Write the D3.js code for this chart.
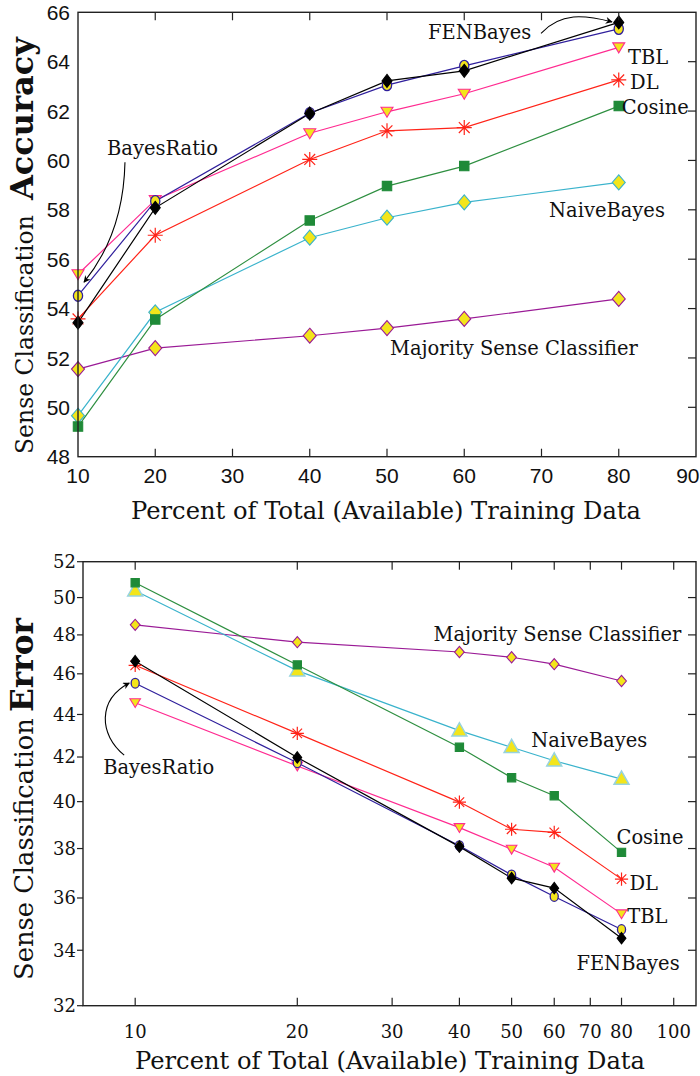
<!DOCTYPE html>
<html><head><meta charset="utf-8">
<script src="https://cdn.jsdelivr.net/npm/d3@7"></script>
<style>html,body{margin:0;padding:0;background:#fff;}</style>
</head><body>
<svg id="c" width="700" height="1076"></svg>
<script>
// ---------- DATA ----------
const seriesNames = ["Majority Sense Classifier","NaiveBayes","Cosine","DL","TBL","BayesRatio","FENBayes"];
const trainPct = [10, 20, 40, 50, 60, 80];

// Accuracy (top panel)
const accMajority   = [51.55, 52.40, 52.90, 53.21, 53.58, 54.39];
const accNaiveBayes = [49.66, 53.85, 56.87, 57.68, 58.30, 59.11];
const accCosine     = [49.22, 53.56, 57.57, 58.96, 59.77, 62.20];
const accDL         = [53.58, 56.97, 60.04, 61.20, 61.33, 63.26];
const accTBL        = [55.39, 58.40, 61.10, 61.97, 62.70, 64.58];
const accBayesRatio = [54.52, 58.35, 61.92, 63.05, 63.83, 65.33];
const accFENBayes   = [53.43, 58.08, 61.90, 63.22, 63.63, 65.59];

// Error (bottom panel)
const errMajority   = [48.53, 47.62, 47.11, 46.84, 46.49, 45.64];
const errNaiveBayes = [50.37, 46.16, 43.23, 42.45, 41.83, 41.00];
const errCosine     = [50.82, 46.45, 42.45, 41.06, 40.26, 37.84];
const errDL         = [46.43, 43.10, 39.98, 38.81, 38.68, 36.75];
const errTBL        = [44.57, 41.59, 38.88, 37.97, 37.23, 35.38];
const errBayesRatio = [45.53, 41.74, 38.12, 36.92, 36.06, 34.78];
const errFENBayes   = [46.64, 41.98, 38.08, 36.79, 36.39, 34.45];

// Tick values
const topXTicks = [10, 20, 30, 40, 50, 60, 70, 80, 90];
const topYTicks = [48, 50, 52, 54, 56, 58, 60, 62, 64, 66];
const botXTicks = [10, 20, 30, 40, 50, 60, 70, 80, 100];
const botYTicks = [32, 34, 36, 38, 40, 42, 44, 46, 48, 50, 52];

// Annotation labels (data units)
const topLabels = [
  {t:"FENBayes", x:55.3, y:65.2},
  {t:"TBL", x:81.2, y:64.19},
  {t:"DL", x:81.46, y:63.18},
  {t:"Cosine", x:80.4, y:62.16},
  {t:"NaiveBayes", x:70.97, y:57.99},
  {t:"Majority Sense Classifier", x:50.39, y:52.4},
  {t:"BayesRatio", x:13.75, y:60.5}
];
const botLabels = [
  {t:"Majority Sense Classifier", x:35.8, y:48.05},
  {t:"NaiveBayes", x:54.4, y:42.79},
  {t:"Cosine", x:78.3, y:38.48},
  {t:"DL", x:82.75, y:36.61},
  {t:"TBL", x:82.0, y:35.31},
  {t:"FENBayes", x:65.96, y:33.54},
  {t:"BayesRatio", x:8.72, y:41.55}
];
// Arrow curves (cubic: start, c1, c2, end) in data units
const topArrows = [
  [[16.08,59.93],[15.95,57.99],[14.14,56.37],[10.78,55.07]],
  [[69.94,65.15],[72.5,66.0],[75.5,65.9],[79.13,65.61]]
];
const botArrows = [
  [[9.54,42.09],[8.57,43.03],[8.50,44.70],[9.75,45.54]]
];

// ---------- STYLE ----------
const YEL = "#f3e51b";
const styles = {
  "Majority Sense Classifier": {line:"#9a1a96", mk:"diamond", fill:YEL, stroke:"#9a1a96"},
  "NaiveBayes": {line:"#3ab3cc", mk:"diamond", fill:YEL, stroke:"#3ab3cc"},
  "Cosine": {line:"#2e8f40", mk:"square", fill:"#1f8a38", stroke:"#1f8a38"},
  "DL": {line:"#ff2318", mk:"star", fill:"none", stroke:"#ff2318"},
  "TBL": {line:"#ff2a90", mk:"tridown", fill:YEL, stroke:"#ff2a90"},
  "BayesRatio": {line:"#2f1f9c", mk:"circle", fill:YEL, stroke:"#2f1f9c"},
  "FENBayes": {line:"#000000", mk:"bdiamond", fill:"#000", stroke:"#000"}
};

const svg = d3.select("#c");
svg.append("rect").attr("width",700).attr("height",1076).attr("fill","#fff");
const SERIF = "'DejaVu Serif', serif";
const SANS = "'Liberation Sans', Arial, sans-serif";

svg.append("defs").append("marker").attr("id","ah").attr("viewBox","0 0 10 10")
  .attr("refX",9).attr("refY",5).attr("markerWidth",9).attr("markerHeight",7)
  .attr("markerUnits","userSpaceOnUse").attr("orient","auto")
  .append("path").attr("d","M0,0 L10,5 L0,10 L3,5 Z").attr("fill","#000");

function markerPath(type, s) {
  switch(type) {
    case "diamond": return `M0,${-7.5*s} L${6.5*s},0 L0,${7.5*s} L${-6.5*s},0 Z`;
    case "bdiamond": return `M0,${-6.5*s} L${5*s},0 L0,${6.5*s} L${-5*s},0 Z`;
    case "square": return `M${-4.7*s},${-4.7*s} h${9.4*s} v${9.4*s} h${-9.4*s} Z`;
    case "tridown": return `M${-6*s},${-4.5*s} L${6*s},${-4.5*s} L0,${5.5*s} Z`;
    case "triup": return `M${-8.5*s},${6*s} L${8.5*s},${6*s} L0,${-9*s} Z`;
    case "star": {
      const r = 7.5*s, d = r*0.72;
      return `M${-r},0 L${r},0 M0,${-r} L0,${r} M${-d},${-d} L${d},${d} M${-d},${d} L${d},${-d}`;
    }
  }
}

function drawPanel(cfg) {
  const g = svg.append("g");
  const {x, y} = cfg;
  const [x0, x1] = x.range(), [yb, yt] = y.range();
  cfg.series.forEach(s => {
    const st = styles[s.name];
    const pts = trainPct.map((p,i)=>[p, s.vals[i]]);
    g.append("path").attr("d", d3.line().x(d=>x(d[0])).y(d=>y(d[1]))(pts))
      .attr("fill","none").attr("stroke",st.line).attr("stroke-width",1.2);
  });
  cfg.series.forEach(s => {
    const st = styles[s.name];
    let mk = st.mk, stroke = st.stroke, sc = cfg.mscale;
    if (cfg.naiveTri && s.name==="NaiveBayes") { mk = "triup"; stroke = "#97d3df"; }
    if (cfg.smallDiamond && s.name==="Majority Sense Classifier") sc = sc*0.85;
    trainPct.forEach((p,i) => {
      const cx = x(p), cy = y(s.vals[i]);
      if (mk === "circle") {
        g.append("ellipse").attr("cx",cx).attr("cy",cy).attr("rx",4.6*sc).attr("ry",5.5*sc)
          .attr("fill",st.fill).attr("stroke",stroke).attr("stroke-width",1.3);
      } else {
        g.append("path").attr("transform",`translate(${cx},${cy})`).attr("d",markerPath(mk,sc))
          .attr("fill", mk==="star" ? "none" : st.fill).attr("stroke",stroke)
          .attr("stroke-width", mk==="star" ? 1.2 : (mk==="triup"?1.5:1.1));
      }
    });
  });
  g.append("rect").attr("x",x0).attr("y",yt).attr("width",x1-x0).attr("height",yb-yt)
    .attr("fill","none").attr("stroke","#222").attr("stroke-width",1.4);
  const tl = 8;
  cfg.xTicks.forEach(v => {
    const px = x(v);
    if (px > x0+1 && px < x1-1) {
      g.append("line").attr("x1",px).attr("x2",px).attr("y1",yb).attr("y2",yb-tl).attr("stroke","#222").attr("stroke-width",1.2);
      g.append("line").attr("x1",px).attr("x2",px).attr("y1",yt).attr("y2",yt+tl).attr("stroke","#222").attr("stroke-width",1.2);
    }
    const t = g.append("text").attr("x",px).attr("y",cfg.xLabelY).attr("text-anchor","middle")
      .attr("font-family",cfg.tickFont).attr("font-size",cfg.tickSize).attr("fill","#111").text(v);
    const w = t.node().getComputedTextLength();
    if (px + w/2 > 699) t.attr("text-anchor","end").attr("x", 699.5);
  });
  cfg.yTicks.forEach(v => {
    const py = y(v);
    if (py > yt+1 && py < yb-1) {
      g.append("line").attr("x1",x1).attr("x2",x1-tl).attr("y1",py).attr("y2",py).attr("stroke","#222").attr("stroke-width",1.2);
    }
    if (cfg.leftOut) g.append("line").attr("x1",x0).attr("x2",x0-6).attr("y1",py).attr("y2",py).attr("stroke","#222").attr("stroke-width",1.2);
    g.append("text").attr("x",cfg.yLabelX).attr("y",py).attr("dy","0.36em").attr("text-anchor","end")
      .attr("font-family",cfg.tickFont).attr("font-size",cfg.tickSize).attr("fill","#111").text(v);
  });
  cfg.labels.forEach(l => {
    g.append("text").attr("class","lbl").attr("x",x(l.x)).attr("y",y(l.y)).attr("dy","0.36em")
      .attr("font-family",SERIF).attr("font-size",19.5).attr("fill","#111").text(l.t);
  });
  cfg.arrows.forEach(a => {
    const p = a.map(d=>[x(d[0]), y(d[1])]);
    g.append("path").attr("d",`M${p[0]} C${p[1]} ${p[2]} ${p[3]}`).attr("fill","none")
      .attr("stroke","#000").attr("stroke-width",1.1).attr("marker-end","url(#ah)");
  });
  const xt = g.append("text").attr("x",cfg.xTitleX).attr("y",cfg.xTitleY).attr("text-anchor","middle")
    .attr("font-family",SERIF).attr("font-size",24).attr("fill","#111").text("Percent of Total (Available) Training Data");
  fit(xt, 510);
  const r1 = g.append("text").attr("transform",`translate(${cfg.yTitleX},${cfg.yT[0]}) rotate(-90)`)
    .attr("font-family",SERIF).attr("font-size",24).attr("fill","#111").text("Sense Classification");
  fit(r1, cfg.yT[0]-cfg.yT[1]);
  const r2 = g.append("text").attr("transform",`translate(${cfg.yTitleX},${cfg.yT[2]}) rotate(-90)`)
    .attr("font-family",SERIF).attr("font-weight","bold").attr("font-size",28).attr("fill","#111").text(cfg.boldWord);
  fit(r2, cfg.yT[2]-cfg.yT[3]);
}
function fit(sel, target) {
  const len = sel.node().getComputedTextLength();
  const fs = parseFloat(sel.attr("font-size"));
  sel.attr("font-size", fs*target/len);
}

drawPanel({
  x: d3.scaleLinear([10,90],[78,696]),
  y: d3.scaleLinear([48,66],[456.7,12.3]),
  series: [
    {name:"Majority Sense Classifier", vals:accMajority},
    {name:"NaiveBayes", vals:accNaiveBayes},
    {name:"Cosine", vals:accCosine},
    {name:"DL", vals:accDL},
    {name:"TBL", vals:accTBL},
    {name:"BayesRatio", vals:accBayesRatio},
    {name:"FENBayes", vals:accFENBayes}
  ],
  mscale: 1, naiveTri:false, leftOut:false,
  xTicks: topXTicks, yTicks: topYTicks,
  tickFont: SANS, tickSize: 21, xLabelY: 483, yLabelX: 70,
  labels: topLabels, arrows: topArrows,
  xTitleX: 386, xTitleY: 519,
  yTitleX: 33, yT: [454, 215, 200, 37], boldWord: "Accuracy"
});
drawPanel({
  x: d3.scaleLog([8,110],[83,696]),
  y: d3.scaleLog([32,52],[1005.7,561.7]),
  series: [
    {name:"Majority Sense Classifier", vals:errMajority},
    {name:"NaiveBayes", vals:errNaiveBayes},
    {name:"Cosine", vals:errCosine},
    {name:"DL", vals:errDL},
    {name:"TBL", vals:errTBL},
    {name:"BayesRatio", vals:errBayesRatio},
    {name:"FENBayes", vals:errFENBayes}
  ],
  mscale: 0.88, naiveTri:true, leftOut:true, smallDiamond:true,
  xTicks: botXTicks, yTicks: botYTicks,
  tickFont: SERIF, tickSize: 18, xLabelY: 1038, yLabelX: 76,
  labels: botLabels, arrows: botArrows,
  xTitleX: 390, xTitleY: 1069,
  yTitleX: 33, yT: [980, 718, 712, 618], boldWord: "Error"
});
(function(){
  const lbls = svg.selectAll("text.lbl");
  let node = lbls.filter(function(){return this.textContent==="Majority Sense Classifier";}).node();
  const len = node.getComputedTextLength();
  const fs = 19.5*248/len;
  lbls.attr("font-size", fs);
})();
</script>
</body></html>
